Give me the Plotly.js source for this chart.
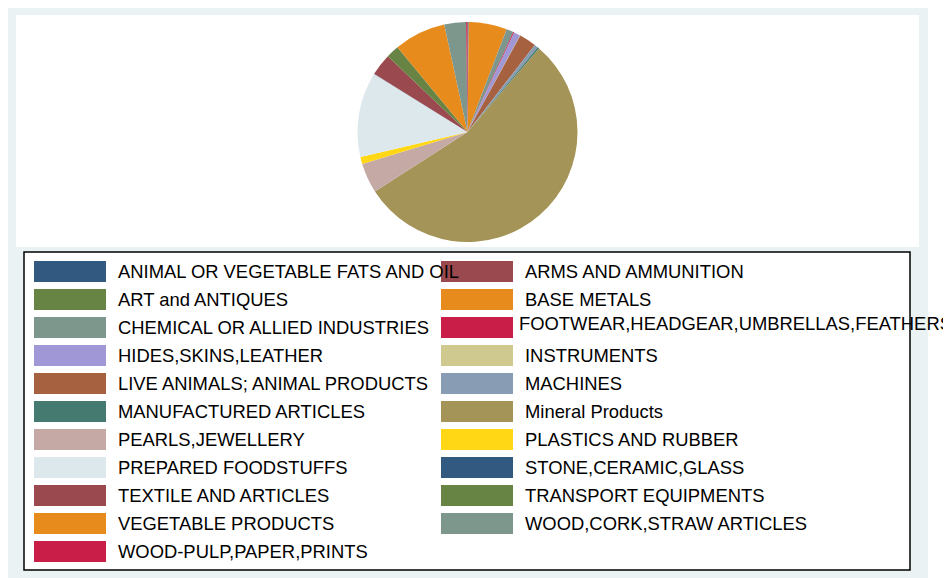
<!DOCTYPE html>
<html>
<head>
<meta charset="utf-8">
<script src="https://cdn.plot.ly/plotly-3.0.1.min.js"></script>
<style>
  body { margin: 8px; background: #ffffff; overflow: hidden; }
  #chart { width: 943px; height: 571px; }
</style>
</head>
<body>
<div id="chart"></div>
<script>
// ---- data (values are shares in %) ----
var categories = [
  "ANIMAL OR VEGETABLE FATS AND OIL", "ARMS AND AMMUNITION",
  "ART and ANTIQUES", "BASE METALS",
  "CHEMICAL OR ALLIED INDUSTRIES", "FOOTWEAR,HEADGEAR,UMBRELLAS,FEATHERS",
  "HIDES,SKINS,LEATHER", "INSTRUMENTS",
  "LIVE ANIMALS; ANIMAL PRODUCTS", "MACHINES",
  "MANUFACTURED ARTICLES", "Mineral Products",
  "PEARLS,JEWELLERY", "PLASTICS AND RUBBER",
  "PREPARED FOODSTUFFS", "STONE,CERAMIC,GLASS",
  "TEXTILE AND ARTICLES", "TRANSPORT EQUIPMENTS",
  "VEGETABLE PRODUCTS", "WOOD,CORK,STRAW ARTICLES",
  "WOOD-PULP,PAPER,PRINTS"
];
var shares = [
  0.15, 0.02,
  0.02, 5.6,
  1.05, 0.15,
  0.95, 0.05,
  2.5, 0.55,
  0.25, 54.7,
  4.4, 1.05,
  12.5, 0.02,
  3.25, 1.9,
  7.6, 3.2,
  0.2
];
var sliceColors = [
  "#325A80", "#9A4A4F",
  "#678444", "#E78B1D",
  "#7E978C", "#C81E48",
  "#A097D6", "#CFC98F",
  "#A56140", "#889DB3",
  "#447A70", "#A59457",
  "#C5A9A5", "#FFD715",
  "#DDE8EC", "#325A80",
  "#9A4A4F", "#678444",
  "#E78B1D", "#7E978C",
  "#C81E48"
];

// ---- layout helpers (figure pixel -> paper fraction) ----
var W = 943, H = 571;
function px(x) { return x / W; }
function py(y) { return 1 - y / H; }

var shapes = [];
var annotations = [];

// graph background
shapes.push({type: "rect", layer: "below", xref: "paper", yref: "paper",
  x0: px(0), x1: px(920), y0: py(H), y1: py(0),
  fillcolor: "#EAF2F3", line: {width: 0}});
// white plot region
shapes.push({type: "rect", layer: "below", xref: "paper", yref: "paper",
  x0: px(8), x1: px(911), y0: py(239), y1: py(7),
  fillcolor: "#ffffff", line: {width: 0}});
// legend box
shapes.push({type: "rect", layer: "below", xref: "paper", yref: "paper",
  x0: px(16), x1: px(902), y0: py(562), y1: py(244),
  fillcolor: "#ffffff", line: {color: "#000000", width: 1.5}});

// legend entries (2 columns, row-major)
var colSwatchX = [26, 433];
var colTextX = [108, 515];
var rowY0 = 263.5, rowStep = 28;
for (var i = 0; i < categories.length; i++) {
  var col = i % 2, row = Math.floor(i / 2);
  var cy = rowY0 + row * rowStep;
  shapes.push({type: "rect", layer: "below", xref: "paper", yref: "paper",
    x0: px(colSwatchX[col]), x1: px(colSwatchX[col] + 72),
    y0: py(cy + 10.5), y1: py(cy - 10.5),
    fillcolor: sliceColors[i], line: {width: 0}});
  var long = categories[i].length > 34;
  annotations.push({xref: "paper", yref: "paper",
    x: px(colTextX[col] - (long ? 6 : 0)), y: py(cy - (long ? 4 : 0)),
    xanchor: "left", yanchor: "middle", showarrow: false,
    text: categories[i],
    font: {family: "Liberation Sans, Arial, sans-serif", size: 18.4, color: "#000000"}});
}

// pie domain: centre (459.5,124), radius 110
var cx = 459.5, cyc = 124, r = 110;

var data = [{
  type: "pie",
  labels: categories,
  values: shares,
  sort: false,
  direction: "clockwise",
  rotation: 0,
  textinfo: "none",
  hoverinfo: "label+percent",
  showlegend: false,
  marker: {colors: sliceColors, line: {width: 0}},
  domain: {x: [px(cx - r), px(cx + r)], y: [py(cyc + r), py(cyc - r)]}
}];

var layout = {
  width: W, height: H,
  margin: {l: 0, r: 0, t: 0, b: 0},
  paper_bgcolor: "#ffffff",
  showlegend: false,
  shapes: shapes,
  annotations: annotations
};

Plotly.newPlot("chart", data, layout, {displayModeBar: false, staticPlot: true});
</script>
</body>
</html>
